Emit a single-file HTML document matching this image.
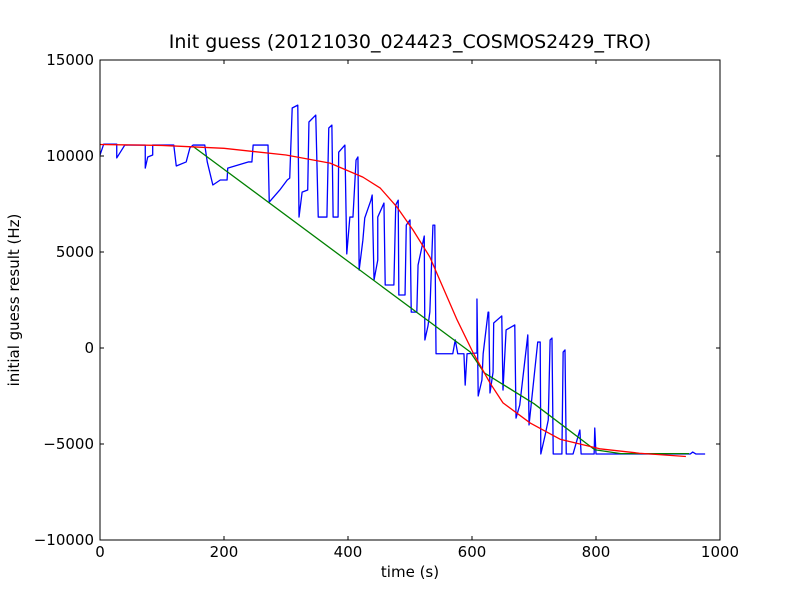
<!DOCTYPE html>
<html><head><meta charset="utf-8"><style>
body{margin:0;background:#fff}
svg{display:block;font-family:"DejaVu Sans","Liberation Sans",sans-serif}
</style></head><body>
<svg id="chart" width="800" height="600" xmlns="http://www.w3.org/2000/svg">
<rect width="800" height="600" fill="#fff"/>
<text x="410" y="48" font-size="19" text-anchor="middle">Init guess (20121030_024423_COSMOS2429_TRO)</text>
<text x="410" y="577" font-size="15" text-anchor="middle">time (s)</text>
<text x="19" y="300" font-size="15" text-anchor="middle" transform="rotate(-90 19 300)">initial guess result (Hz)</text>
<g id="ticks"></g>
<g id="series"></g>
<rect x="100" y="60" width="620" height="480" fill="none" stroke="#000" stroke-width="1"/>
</svg>
<script>
const xTicks=[0,200,400,600,800,1000];
const yTicks=[-10000,-5000,0,5000,10000,15000];
const yTickLabels=["\u221210000","\u22125000","0","5000","10000","15000"];
const blueT=[0,6,27,27,40,73,73,77,85,85,119,123,139,145,150,169,173,182,194,205,206,239,245,247,271,273,290,302,306,310,319,321,326,335,337,348,352,366,369,374,376,384,385,395,398,403,408,413,416,418,424,427,437,439,442,448,448,458,460,474,477,481,482,492,494,500,502,511,513,523,524,529,532,537,540,542,548,569,573,577,587,589,592,608,608,610,616,618,626,627,629,634,635,648,650,655,669,671,677,690,692,706,710,711,718,723,726,729,731,745,747,750,752,763,774,776,797,798,800,952,956,961,976];
const blueV=[10050,10620,10620,9900,10570,10570,9370,9950,10050,10570,10570,9480,9690,10420,10570,10570,9690,8490,8750,8750,9370,9690,9690,10570,10570,7600,8230,8750,8850,12500,12650,6820,8120,8230,11770,12130,6820,6820,11460,11610,6820,6820,10200,10570,4900,6820,6820,9790,9950,4060,5620,6770,7700,7970,3540,4580,6820,7550,3280,3280,7450,7700,2760,2760,6400,6670,1870,1870,4320,5830,420,1150,1870,6400,6400,-300,-300,-300,420,-300,-300,-1930,-300,-260,2550,-2500,-1670,-300,1870,1870,-2340,-1250,1300,1670,-2190,940,1200,-3650,-2970,680,-4010,310,310,-5520,-4530,-3750,420,520,-5520,-5520,-210,-100,-5520,-5520,-4270,-5520,-5520,-4170,-5520,-5520,-5420,-5520,-5520];
const redT=[0,100,200,300,371,424,452,479,505,532,548,576,602,629,650,694,742,806,870,945];
const redV=[10600,10550,10400,10050,9630,8900,8330,7340,6140,4740,3540,1460,-260,-1820,-2860,-3910,-4750,-5250,-5480,-5650];
const greenT=[150,597,620,700,798,840,950];
const greenV=[10500,-200,-1300,-2900,-5300,-5500,-5500];
const X=t=>100+t*0.62, Y=v=>348-v*0.0192;
const NS="http://www.w3.org/2000/svg";
const tg=document.getElementById('ticks'), sg=document.getElementById('series');
function mk(tag,attrs,parent){const e=document.createElementNS(NS,tag);for(const k in attrs)e.setAttribute(k,attrs[k]);parent.appendChild(e);return e;}
xTicks.forEach(t=>{
  const x=X(t);
  const l1=mk('line',{x1:x,x2:x,y1:540,y2:536,stroke:'#000'},tg);
  
  
  const l2=mk('line',{x1:x,x2:x,y1:60,y2:64,stroke:'#000'},tg);
  
  
  const tx=mk('text',{x:x,y:557,'font-size':15,'text-anchor':'middle'},tg);tx.textContent=t;
  
  
});
yTicks.forEach((v,i)=>{
  const y=Y(v);
  const l1=mk('line',{x1:100,x2:104,y1:y,y2:y,stroke:'#000'},tg);
  
  
  const l2=mk('line',{x1:716,x2:720,y1:y,y2:y,stroke:'#000'},tg);
  
  
  const tx=mk('text',{x:94,y:y+5,'font-size':15,'text-anchor':'end'},tg);tx.textContent=yTickLabels[i];
  
  
});
function line(ts,vs,color,name){
  const p=mk('polyline',{points:ts.map((t,i)=>X(t)+','+Y(vs[i])).join(' '),fill:'none',stroke:color,'stroke-width':1.3,'stroke-linejoin':'round'},sg);
  
  
}
line(blueT,blueV,'#0000ff','measured-series');
line(greenT,greenV,'#008000','linear-fit');
line(redT,redV,'#ff0000','sigmoid-fit');
</script>
</body></html>
